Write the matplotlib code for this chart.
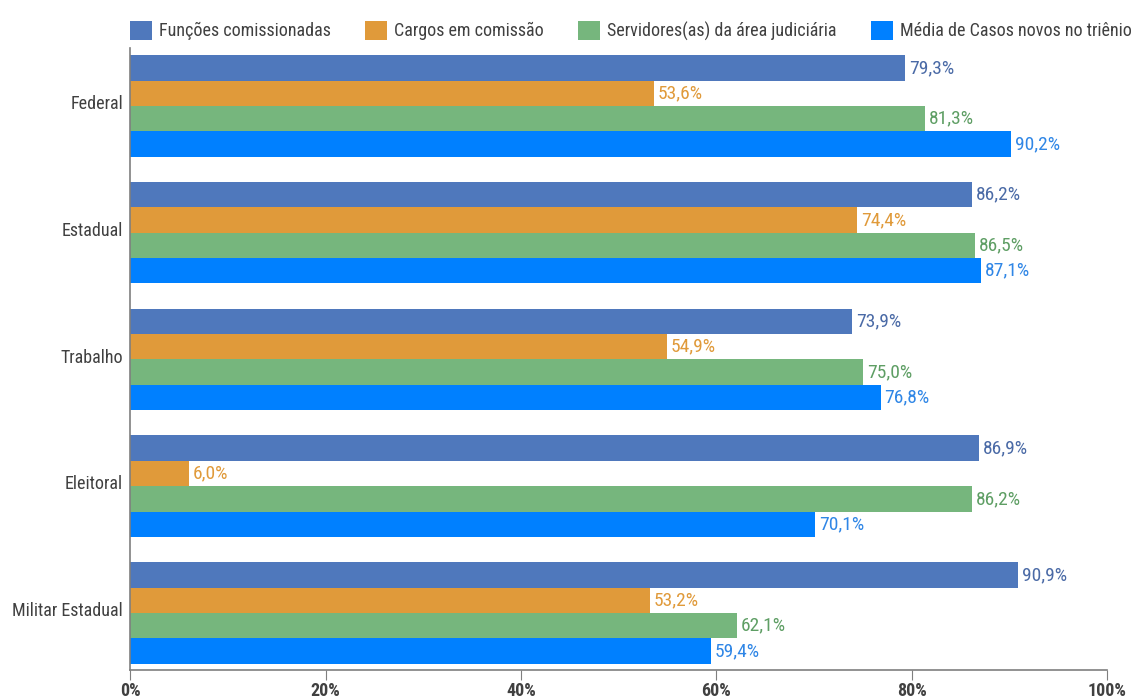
import numpy as np
import matplotlib.pyplot as plt
from matplotlib import font_manager

categorias = ['Federal', 'Estadual', 'Trabalho', 'Eleitoral', 'Militar Estadual']
series = ['Funções comissionadas', 'Cargos em comissão',
          'Servidores(as) da área judiciária', 'Média de Casos novos no triênio']
funcoes = [79.3, 86.2, 73.9, 86.9, 90.9]
cargos = [53.6, 74.4, 54.9, 6.0, 53.2]
servidores = [81.3, 86.5, 75.0, 86.2, 62.1]
media_casos = [90.2, 87.1, 76.8, 70.1, 59.4]

cores = ['#4F78BC', '#E09A3A', '#76B67D', '#0080FF']
cores_txt = ['#4A6AA6', '#E09A3A', '#5E9E64', '#2F86E6']

nomes = {f.name for f in font_manager.fontManager.ttflist}
candidatas = ['Roboto Condensed', 'Noto Sans Condensed', 'Open Sans Condensed',
              'Liberation Sans Narrow', 'DejaVu Sans Condensed']
familia = [f for f in candidatas if f in nomes]
if not familia:
    familia = ['Roboto']
    plt.rcParams['font.stretch'] = 'condensed'
plt.rcParams['font.family'] = familia + ['DejaVu Sans']
tam = 13 if familia[0] != 'Roboto' else 12

fig = plt.figure(figsize=(11.31, 6.99), dpi=100)
ax = fig.add_axes([0.115, 0.0415, 0.864, 0.8895])

valores = [funcoes, cargos, servidores, media_casos]
h = 0.2
y = np.arange(len(categorias))
for i, (nome, vals) in enumerate(zip(series, valores)):
    pos = y + (i - 1.5) * h
    ax.barh(pos, vals, height=h, color=cores[i], label=nome)
    for p, v in zip(pos, vals):
        ax.text(v + 0.4, p, f'{v:.1f}%'.replace('.', ','), va='center', ha='left',
                fontsize=tam + 1, color=cores_txt[i])

ax.set_xlim(0, 100)
ax.set_ylim(4.45, -0.455)
ax.set_yticks(y - 0.03)
ax.set_yticklabels(categorias, fontsize=tam, color='#404040')
ax.tick_params(axis='y', length=0, pad=5)
ax.set_xticks(np.arange(0, 101, 20))
ax.set_xticklabels([f'{t}%' for t in range(0, 101, 20)], fontsize=tam,
                   color='#404040', fontweight='bold')
ax.tick_params(axis='x', length=7, color='#7f7f7f', pad=2)
for s in ['top', 'right']:
    ax.spines[s].set_visible(False)
for s in ['left', 'bottom']:
    ax.spines[s].set_color('#7f7f7f')
    ax.spines[s].set_linewidth(1.2)

leg = fig.legend(loc='upper center', bbox_to_anchor=(0.558, 0.993), ncol=4, frameon=False,
                 fontsize=tam, handlelength=1.2, handleheight=1.2, handletextpad=0.4,
                 columnspacing=1.9)
for t in leg.get_texts():
    t.set_color('#404040')

fig.savefig('out.png', dpi=100)
